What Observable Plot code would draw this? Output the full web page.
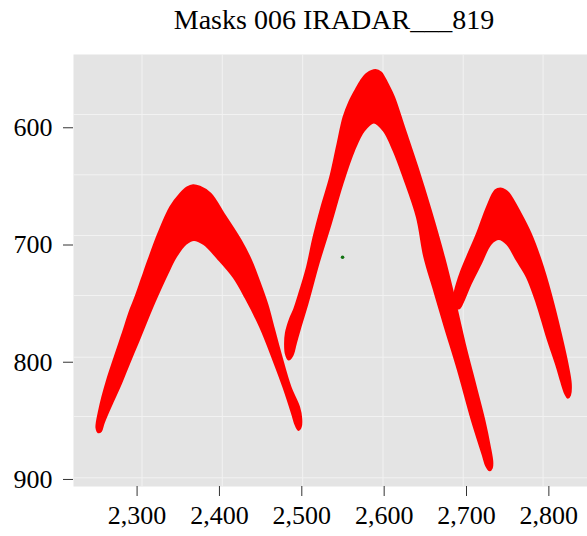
<!DOCTYPE html>
<html><head><meta charset="utf-8">
<script src="https://cdn.jsdelivr.net/npm/d3@7"></script>
<script src="https://cdn.jsdelivr.net/npm/@observablehq/plot@0.6"></script>
<style>
body{margin:0;background:#fff;}
#title{height:40px;padding-left:77px;width:514px;text-align:center;font-family:"Liberation Serif",serif;font-size:28px;line-height:40px;color:#000;white-space:nowrap;}
</style></head><body>
<div id="title">Masks 006 IRADAR___819</div>
<div id="chart"></div>
<script>
// Mask outlines (outer edge then inner edge)
const mask1X = [2256,2253,2251,2251.5,2254,2258,2264,2271.7,2282,2292,2298,2306,2314,2326,2340.6,2352.7,2361,2368,2376,2389,2405,2425.6,2438,2448,2458,2466,2474,2486,2496.4,2499,2498.5,2496,
  2492,2489,2478,2466,2449.8,2432,2417.4,2399,2381,2369,2358.8,2346.6,2336.5,2321,2310,2300,2290,2280,2270,2263.7,2259];
const mask1Y = [858.5,859.5,856,851,842,830,815,798.5,777,755.7,745,729,713,690.4,667.7,656.3,651,649.2,650.5,656.3,673.4,696,713,731,751,772,792.8,821.3,838.3,848,855,857.5,
  852,845,821.3,798.5,770,745,727.4,712,699,695.5,699,710.4,724.5,748.5,767,784.3,801,818.4,834,844,852];
const mask2X = [2484,2481,2480,2481,2486,2491,2500,2506.6,2514.6,2524,2534.8,2543,2551,2558,2565.2,2572,2579.4,2589.5,2596,2599.6,2605,2611.7,2623.9,2640.1,2656.3,2672.4,2684,2697.5,2711,2721.5,2728,2731,2730.5,2728,
  2724,2720,2707,2690,2674,2661,2649,2640.1,2623.9,2611.7,2599.6,2587.5,2575.3,2563.1,2549,2534.8,2520.5,2506.6,2498,2492.3,2488.3];
const mask2Y = [797.5,793,785,775,763,755,735,719,693.3,668,642.1,616,591,578,568.2,560,554,551,553,556.8,564,573.9,599.5,633.6,670.5,710.4,743,784,821,850,872,885,890,892,
  888,879,850,807,770,739,710,676.3,642.1,619.4,602.3,595.2,602.3,619.4,647.8,681.9,714.5,750,770,784.3,794.2];
const mask3X = [2690.5,2686.5,2684.6,2686,2688.7,2694,2700.8,2713,2725.1,2735.2,2741.3,2747,2751.4,2765.6,2777.7,2789.9,2802,2814.2,2822.3,2826.3,2825.4,2823,
  2820.2,2815,2810.1,2798,2785.8,2773.7,2761.6,2749.4,2739.2,2729.1,2717,2704.8,2697,2693];
const mask3Y = [754,752,746,740,733,722,710.4,690.4,667.7,653.5,652,653.5,656.3,673.4,690.4,713.2,741.6,775.7,801.3,818.4,828,830,
  826.9,816,804.2,778.6,750.1,727.4,713.2,699,694.7,699,716,733,746,752];
// Single green point
const pointX = [2549.5];
const pointY = [710.5];
// Axis ticks
const xTicks = [2300, 2400, 2500, 2600, 2700, 2800];
const yTicks = [600, 700, 800, 900];
// Grid line positions as seen in the picture
const gridX = [2306, 2403.5, 2501, 2598.6, 2696, 2793];
const gridY = [588.7, 640.1, 691.9, 743.1, 795.7, 846.3, 898.6];

const masks = [
  {name: "mask1", x: mask1X, y: mask1Y},
  {name: "mask2", x: mask2X, y: mask2Y},
  {name: "mask3", x: mask3X, y: mask3Y}
];
const outline = masks.flatMap(m => m.x.map((x, i) => ({mask: m.name, x, y: m.y[i]})));
const points = pointX.map((x, i) => ({x, y: pointY[i]}));

const plot = Plot.plot({
  width: 587, height: 496,
  marginTop: 14, marginBottom: 50, marginLeft: 73, marginRight: 0,
  style: {fontFamily: "'Liberation Serif', serif", fontSize: "26px", background: "#fff", color: "#000"},
  x: {domain: [2222.8, 2846.9], label: null},
  y: {domain: [906, 537.5], label: null},
  marks: [
    Plot.frame({fill: "#E4E4E4", stroke: "none"}),
    Plot.ruleX(gridX, {stroke: "#F2F2F2", strokeWidth: 1}),
    Plot.ruleY(gridY, {stroke: "#F2F2F2", strokeWidth: 1}),
    Plot.line(outline, {x: "x", y: "y", z: "mask", fill: "#FF0000", stroke: "#FF0000", strokeWidth: 2.5, strokeLinejoin: "round", curve: "catmull-rom-closed"}),
    Plot.dot(points, {x: "x", y: "y", r: 1.8, fill: "#137313", stroke: "none"}),
    Plot.axisX(xTicks, {tickSize: 10, tickPadding: 9, tickFormat: d3.format(","), stroke: "#333", fill: "#000", label: null}),
    Plot.axisY(yTicks, {tickSize: 10, tickPadding: 11, stroke: "#333", fill: "#000", label: null})
  ]
});
document.getElementById("chart").appendChild(plot);
</script>
</body></html>
